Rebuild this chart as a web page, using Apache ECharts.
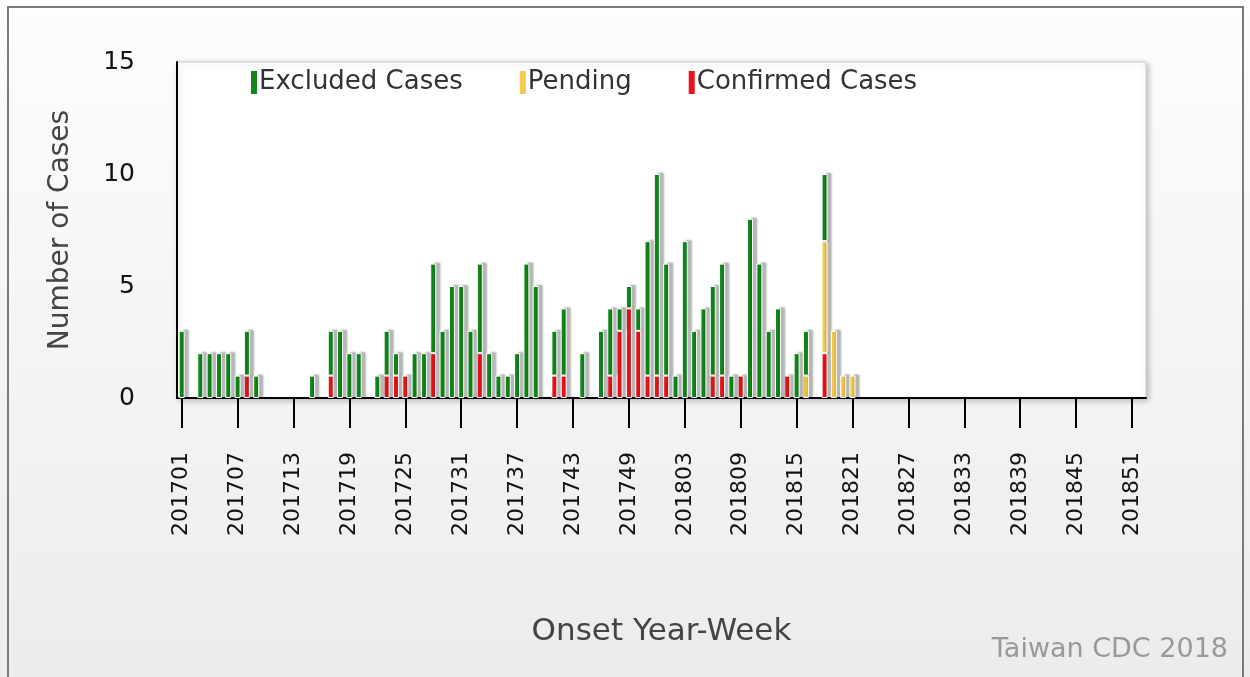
<!DOCTYPE html>
<html>
<head>
<meta charset="utf-8">
<script src="https://cdn.jsdelivr.net/npm/echarts@6/dist/echarts.min.js"></script>
<style>
  html, body { margin: 0; padding: 0; background: #fff; }
  #chart { width: 1250px; height: 677px; }
</style>
</head>
<body>
<div id="chart"></div>
<script>
// week labels 201701..201752, 201801..201852
var weeks = [];
for (var y = 2017; y <= 2018; y++) {
  for (var w = 1; w <= 52; w++) {
    weeks.push(String(y) + (w < 10 ? '0' + w : w));
  }
}

// cases per onset week, starting at 201701 (weeks after 201821 have none)
var excluded = [3,0,2,2,2,2,1,2,1,0, 0,0,0,0,1,0,2,3,2,2, 0,1,2,1,0,2,2,4,3,5,
                5,3,4,2,1,1,2,6,5,0, 2,3,0,2,0,3,3,1,1,1, 6,9,5,1,7,3,4,4,5,1,
                0,8,6,3,4,0,2,2,0,3, 0,0,0];
var pending  = [0,0,0,0,0,0,0,0,0,0, 0,0,0,0,0,0,0,0,0,0, 0,0,0,0,0,0,0,0,0,0,
                0,0,0,0,0,0,0,0,0,0, 0,0,0,0,0,0,0,0,0,0, 0,0,0,0,0,0,0,0,0,0,
                0,0,0,0,0,0,0,1,0,5, 3,1,1];
var confirmed = [0,0,0,0,0,0,0,1,0,0, 0,0,0,0,0,0,1,0,0,0, 0,0,1,1,1,0,0,2,0,0,
                 0,0,2,0,0,0,0,0,0,0, 1,1,0,0,0,0,1,3,4,3, 1,1,1,0,0,0,0,1,1,0,
                 1,0,0,0,0,1,0,0,0,2, 0,0,0];

var yTicks = [0, 5, 10, 15];

var font = 'DejaVu Sans';

function clean(arr) {
  return arr.map(function (v) { return v === 0 ? '-' : v; });
}

var barStyle = function (color) {
  return {
    color: color,
    borderColor: '#ffffff',
    borderWidth: 1,
    shadowColor: 'rgba(0,0,0,0.28)',
    shadowBlur: 2,
    shadowOffsetX: 4,
    shadowOffsetY: -1
  };
};

var option = {
  animation: false,
  backgroundColor: {
    type: 'linear', x: 0, y: 0, x2: 0, y2: 1,
    colorStops: [{offset: 0, color: '#fdfdfd'}, {offset: 1, color: '#ececec'}]
  },
  textStyle: { fontFamily: font },
  graphic: [
    {
      type: 'rect',
      shape: { x: 8, y: 7, width: 1235, height: 690 },
      style: { fill: 'none', stroke: '#7a7a7a', lineWidth: 2 },
      silent: true
    },
    {
      type: 'text',
      right: 22,
      bottom: 14,
      style: { text: 'Taiwan CDC 2018', fill: '#999999', font: '27px "DejaVu Sans"' }
    }
  ],
  legend: {
    data: ['Excluded Cases', 'Pending', 'Confirmed Cases'],
    left: 244,
    top: 64,
    icon: 'rect',
    itemWidth: 8,
    itemHeight: 25,
    itemGap: 55,
    textStyle: { fontSize: 26, color: '#333', fontFamily: font, padding: [0, 0, 0, -4] }
  },
  grid: {
    left: 177,
    right: 104,
    top: 62,
    bottom: 279,
    show: true,
    backgroundColor: '#ffffff',
    borderColor: '#d0d0d0',
    borderWidth: 1,
    shadowColor: 'rgba(0,0,0,0.25)',
    shadowBlur: 6,
    shadowOffsetX: 2,
    shadowOffsetY: 2
  },
  xAxis: {
    type: 'category',
    data: weeks,
    name: 'Onset Year-Week',
    nameLocation: 'middle',
    nameGap: 218,
    nameTextStyle: { fontSize: 31, color: '#444', fontFamily: font },
    axisLine: { lineStyle: { color: '#000', width: 2 } },
    axisTick: { show: true, alignWithLabel: true, interval: 5, length: 30, lineStyle: { color: '#000', width: 2 } },
    axisLabel: { interval: 5, rotate: 90, margin: 54, fontSize: 22, color: '#111', fontFamily: font }
  },
  yAxis: {
    type: 'value',
    min: 0,
    max: yTicks[yTicks.length - 1],
    interval: 5,
    name: 'Number of Cases',
    nameLocation: 'middle',
    nameRotate: 90,
    nameGap: 102,
    nameTextStyle: { fontSize: 28, color: '#444', fontFamily: font },
    axisLine: { show: true, lineStyle: { color: '#000', width: 2 } },
    axisTick: { show: false },
    splitLine: { show: false },
    axisLabel: { margin: 42, fontSize: 25, color: '#111', fontFamily: font }
  },
  series: [
    {
      name: 'Confirmed Cases',
      type: 'bar',
      stack: 'cases',
      barWidth: 6,
      data: clean(confirmed),
      itemStyle: barStyle('#e8141a')
    },
    {
      name: 'Pending',
      type: 'bar',
      stack: 'cases',
      barWidth: 6,
      data: clean(pending),
      itemStyle: barStyle('#f4c94c')
    },
    {
      name: 'Excluded Cases',
      type: 'bar',
      stack: 'cases',
      barWidth: 6,
      data: clean(excluded),
      itemStyle: barStyle('#11871a')
    }
  ]
};

var myChart = echarts.init(document.getElementById('chart'));
myChart.setOption(option);
</script>
</body>
</html>
